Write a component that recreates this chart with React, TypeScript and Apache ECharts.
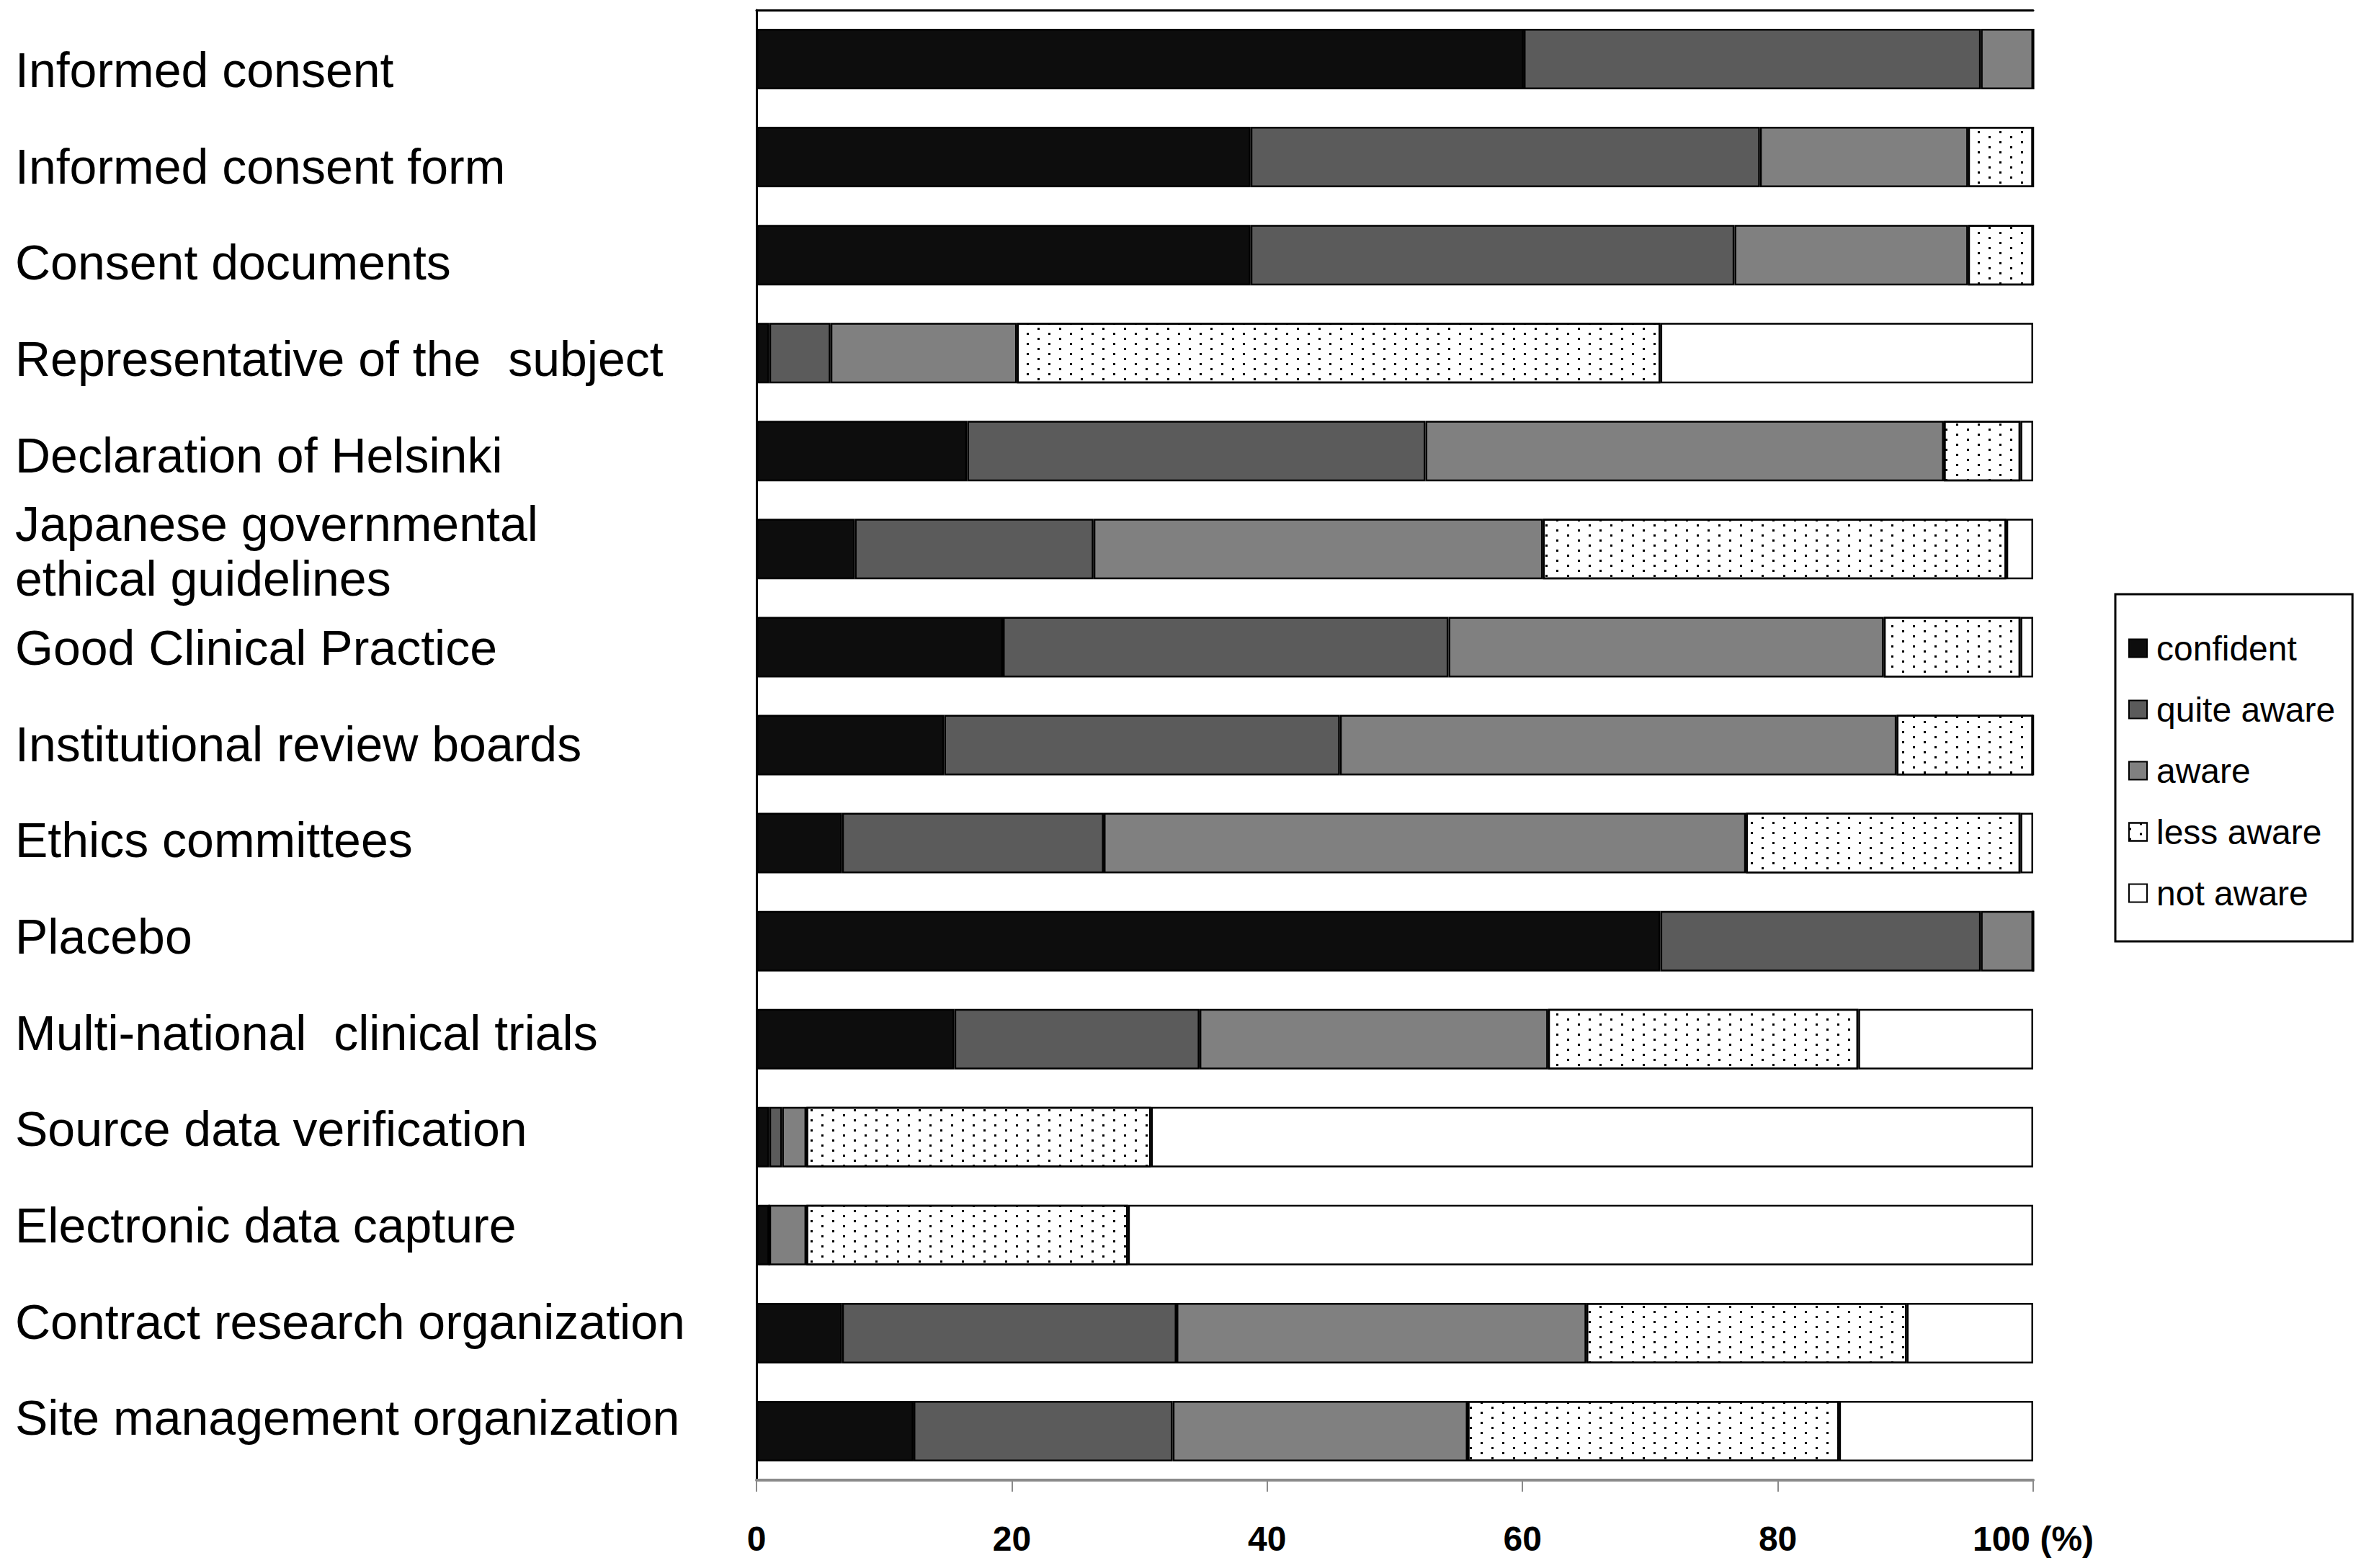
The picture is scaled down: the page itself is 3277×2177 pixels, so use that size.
import React, { useEffect, useRef } from "react";
import * as echarts from "echarts";

const categories = [
  "Informed consent",
  "Informed consent form",
  "Consent documents",
  "Representative of the  subject",
  "Declaration of Helsinki",
  "Japanese governmental\nethical guidelines",
  "Good Clinical Practice",
  "Institutional review boards",
  "Ethics committees",
  "Placebo",
  "Multi-national  clinical trials",
  "Source data verification",
  "Electronic data capture",
  "Contract research organization",
  "Site management organization",
];

const seriesNames = ["confident", "quite aware", "aware", "less aware", "not aware"];

const confident = [60.1, 38.7, 38.7, 1.0, 16.5, 7.7, 19.3, 14.7, 6.7, 70.8, 15.5, 1.0, 1.0, 6.7, 12.3];
const quiteAware = [35.8, 39.9, 37.9, 4.8, 35.9, 18.7, 34.9, 31.0, 20.5, 25.1, 19.2, 1.0, 0, 26.2, 20.3];
const aware = [4.1, 16.3, 18.3, 14.6, 40.6, 35.2, 34.1, 43.6, 50.3, 4.1, 27.3, 1.9, 2.9, 32.1, 23.1];
const lessAware = [0, 5.1, 5.1, 50.4, 6.0, 36.3, 10.7, 10.7, 21.5, 0, 24.3, 27.0, 25.2, 25.1, 29.1];
const notAware = [0, 0, 0, 29.2, 1.0, 2.1, 1.0, 0, 1.0, 0, 13.7, 69.1, 70.9, 9.9, 15.2];

const xTicks = [0, 20, 40, 60, 80, 100];

export default function App() {
  const ref = useRef<HTMLDivElement>(null);

  useEffect(() => {
    if (!ref.current) return;
    const chart = echarts.init(ref.current, null, { renderer: "svg" });

    const dotDecal = {
      symbol: "rect",
      symbolSize: 1,
      color: "#000",
      backgroundColor: "#fff",
      dashArrayX: [
        [3, 27],
        [0, 15, 3, 12],
      ],
      dashArrayY: [3, 4],
      rotation: 0,
    };

    const values = [confident, quiteAware, aware, lessAware, notAware];
    const colors = ["#0d0d0d", "#5b5b5b", "#808080", "#ffffff", "#ffffff"];

    const series = seriesNames.map((name, i) => ({
      name,
      type: "bar",
      stack: "total",
      barWidth: 84,
      xAxisIndex: 0,
      yAxisIndex: 0,
      data: values[i],
      itemStyle: {
        color: colors[i],
        borderColor: "#000",
        borderWidth: 2.5,
        ...(i === 3 ? { decal: dotDecal } : {}),
      },
      emphasis: { disabled: true },
    }));

    chart.setOption({
      animation: false,
      backgroundColor: "#fff",
      grid: [
        { left: 1050, top: 14, width: 1772, height: 2041, containLabel: false },
        { left: 1050, top: 30, width: 1772, height: 2005, containLabel: false, show: false },
      ],
      legend: {
        orient: "vertical",
        left: 2936,
        top: 825,
        data: seriesNames,
        icon: "rect",
        itemWidth: 25,
        itemHeight: 25,
        itemGap: 37,
        padding: [51, 24, 43, 18],
        borderColor: "#000",
        borderWidth: 3,
        backgroundColor: "#fff",
        selectedMode: false,
        textStyle: {
          fontFamily: "Liberation Sans, Arial, sans-serif",
          fontSize: 48,
          lineHeight: 48,
          color: "#000",
          padding: [0, 0, 0, 8],
        },
      },
      xAxis: [
        {
          type: "value",
          gridIndex: 0,
          min: 0,
          max: 100,
          interval: 20,
          position: "bottom",
          axisLine: { show: true, lineStyle: { color: "#8a8a8a", width: 4 } },
          axisTick: { show: true, length: 16, lineStyle: { color: "#8a8a8a", width: 2 } },
          splitLine: { show: false },
          axisLabel: {
            margin: 57,
            fontFamily: "Liberation Sans Narrow, Arial Narrow, Liberation Sans, sans-serif",
            fontWeight: "bold",
            fontSize: 48,
            color: "#000",
            customValues: xTicks,
            formatter: (v: number) => (v === 100 ? "100 (%)" : String(v)),
          },
        },
        {
          type: "value",
          gridIndex: 0,
          min: 0,
          max: 100,
          position: "top",
          axisLine: { show: true, lineStyle: { color: "#000", width: 3 } },
          axisTick: { show: false },
          axisLabel: { show: false },
          splitLine: { show: false },
        },
        {
          type: "value",
          gridIndex: 1,
          min: 0,
          max: 100,
          show: false,
        },
      ],
      yAxis: [
        {
          type: "category",
          gridIndex: 0,
          data: categories,
          inverse: true,
          position: "left",
          axisLine: { show: true, lineStyle: { color: "#8a8a8a", width: 3 } },
          axisTick: { show: false },
          axisLabel: { show: false },
        },
        {
          type: "category",
          gridIndex: 0,
          data: categories,
          inverse: true,
          position: "right",
          axisLine: { show: true, lineStyle: { color: "#000", width: 3 } },
          axisTick: { show: false },
          axisLabel: { show: false },
        },
        {
          type: "category",
          gridIndex: 1,
          data: categories,
          inverse: true,
          position: "left",
          axisLine: { show: false },
          axisTick: { show: false },
          splitLine: { show: false },
          axisLabel: {
            align: "left",
            margin: 1029,
            fontFamily: "Liberation Sans, Arial, sans-serif",
            fontSize: 68,
            lineHeight: 76,
            color: "#000",
          },
        },
      ],
      series,
    });

    return () => chart.dispose();
  }, []);

  return (
    <div
      ref={ref}
      style={{ position: "fixed", left: 0, top: 0, width: "3277px", height: "2177px" }}
    />
  );
}
